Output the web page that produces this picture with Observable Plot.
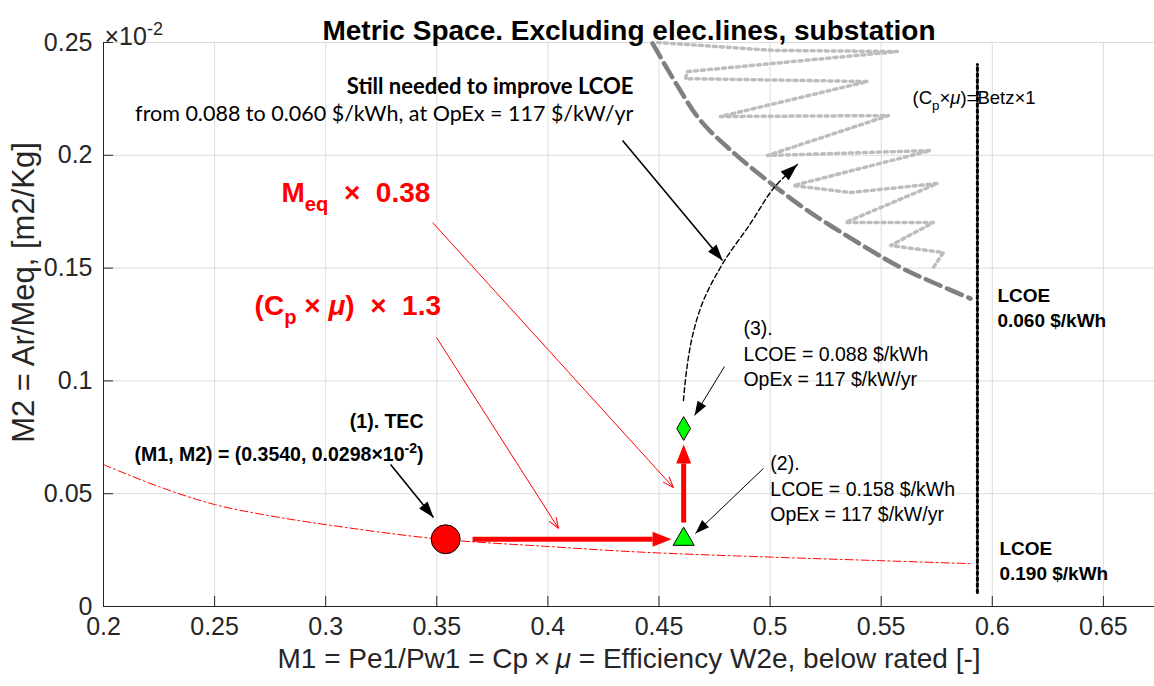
<!DOCTYPE html>
<html>
<head>
<meta charset="utf-8">
<script src="https://cdn.jsdelivr.net/npm/d3@7"></script>
<script src="https://cdn.jsdelivr.net/npm/@observablehq/plot@0.6"></script>
<style>
  body { margin: 0; background: #fff; }
  #chart svg { display: block; }
</style>
</head>
<body>
<div id="chart"></div>
<script>
// ---------- data ----------
const xTicks = [0.2, 0.25, 0.3, 0.35, 0.4, 0.45, 0.5, 0.55, 0.6, 0.65];
const yTicks = [0, 0.05, 0.1, 0.15, 0.2, 0.25];

// LCOE = 0.190 $/kWh iso-line (red dash-dot)
const lcoe190X = [0.2, 0.225, 0.25, 0.275, 0.3, 0.35, 0.4, 0.442, 0.5, 0.55, 0.59];
const lcoe190Y = [0.0629, 0.0531, 0.0452, 0.0402, 0.0363, 0.0300, 0.0266, 0.0241, 0.0219, 0.0203, 0.0190];

// LCOE = 0.060 $/kWh iso-line (grey dashed)
const lcoe060X = [0.4471, 0.4574, 0.4687, 0.4835, 0.4988, 0.5137, 0.5285, 0.5587, 0.5744, 0.5902];
const lcoe060Y = [0.2496, 0.2323, 0.2154, 0.2012, 0.1888, 0.1777, 0.1680, 0.1503, 0.1432, 0.1365];

// design-space search trace (grey dotted zigzag)
const searchX = [0.4493, 0.5015, 0.5573, 0.4628, 0.4619, 0.5438, 0.4777, 0.5533, 0.4988, 0.5722,
                 0.5105, 0.5362, 0.5753, 0.5339, 0.5735, 0.5542, 0.5780, 0.5735];
const searchY = [0.2500, 0.2465, 0.2460, 0.2371, 0.2340, 0.2327, 0.2172, 0.2176, 0.1999, 0.2021,
                 0.1866, 0.1835, 0.1875, 0.1702, 0.1702, 0.1600, 0.1569, 0.1503];

// improvement path still needed (black dashed, with arrow)
const pathX = [0.4610, 0.4624, 0.4651, 0.4700, 0.4790, 0.4912, 0.5015, 0.5123];
const pathY = [0.0913, 0.1046, 0.1201, 0.1356, 0.1525, 0.1698, 0.1853, 0.1959];

// Betz limit (Cp x mu) = Betz x 1
const betzX = [0.5933, 0.5933];
const betzY = [0.0062, 0.2403];

// design points
const points = [
  {name: "(1) TEC", x: 0.354, y: 0.0298},
  {name: "(2)", x: 0.4611, y: 0.0298},
  {name: "(3)", x: 0.4611, y: 0.0789}
];

// thick red improvement arrows (shaft start -> shaft end)
const thickArrows = [
  {x1: 0.3661, y1: 0.0298, x2: 0.4471, y2: 0.0298},
  {x1: 0.4611, y1: 0.0372, x2: 0.4611, y2: 0.0634}
];
// thin red pointer arrows (start -> tip)
const redPointers = [
  {x1: 0.3481, y1: 0.1702, x2: 0.4565, y2: 0.0527},
  {x1: 0.3499, y1: 0.1192, x2: 0.4048, y2: 0.0346}
];
// black pointer arrows (start -> tip)
const blackPointersBold = [
  {x1: 0.4336, y1: 0.2066, x2: 0.4786, y2: 0.1534},
  {x1: 0.3292, y1: 0.0629, x2: 0.3485, y2: 0.0395}
];
const blackPointersThin = [
  {x1: 0.4970, y1: 0.0612, x2: 0.4664, y2: 0.0324},
  {x1: 0.4795, y1: 0.1064, x2: 0.4660, y2: 0.0847}
];

// texts
const titleText = ["Metric Space. Excluding elec.lines, substation"];
const xLabel = ["M1 = Pe1/Pw1 = Cp\u2009×\u2009*{μ} = Efficiency W2e, below rated [-]"];
const yLabel = ["M2 = Ar/Meq, [m2/Kg]"];
const yExponent = ["×10^{-2}"];
const redLabels = [
  {text: "M_{eq}  ×  0.38", x: 0.2801, y: 0.1831},
  {text: "(C_{p} × *{μ})  ×  1.3", x: 0.2680, y: 0.1330}
];
const tecLabel = [{text: "(1). TEC\n(M1, M2) = (0.3540, 0.0298×10^{-2})", x: 0.3440, y: 0.0765}];
const stillBold = [{text: "Still needed to improve LCOE", x: 0.4385, y: 0.2301}];
const stillRegular = [{text: "from 0.088 to 0.060 $/kWh, at OpEx = 117 $/kW/yr", x: 0.4385, y: 0.2181}];
const pointLabels = [
  {text: "(3).\nLCOE = 0.088 $/kWh\nOpEx = 117 $/kW/yr", x: 0.4880, y: 0.1126},
  {text: "(2).\nLCOE = 0.158 $/kWh\nOpEx = 117 $/kW/yr", x: 0.5001, y: 0.0527}
];
const lcoeLabels = [
  {text: "LCOE\n0.060 $/kWh", x: 0.6023, y: 0.1332},
  {text: "LCOE\n0.190 $/kWh", x: 0.6032, y: 0.0208}
];
const betzLabel = [{text: "(C_{p}×*{μ})=Betz×1", x: 0.5641, y: 0.2252}];

// ---------- helpers ----------
const zip = (xs, ys) => xs.map((x, i) => ({x, y: ys[i]}));
const lcoe190 = zip(lcoe190X, lcoe190Y);
const lcoe060 = zip(lcoe060X, lcoe060Y);
const search = zip(searchX, searchY);
const path = zip(pathX, pathY);
const betz = zip(betzX, betzY);

const W = 1154, H = 686;
const mL = 103, mR = 0, mT = 42, mB = 80;
const xDomain = [0.2, 0.673];
const yDomain = [0, 0.25];
const dataPerPxX = (xDomain[1] - xDomain[0]) / (W - mL - mR);
const dataPerPxY = (yDomain[1] - yDomain[0]) / (H - mT - mB);
const fmt = d3.format("~g");
const NS = "http://www.w3.org/2000/svg";

function head(len, wid, filled, atBase) {
  return (color) => {
    const m = document.createElementNS(NS, "marker");
    m.setAttribute("viewBox", `0 ${-wid / 2} ${len} ${wid}`);
    m.setAttribute("markerUnits", "userSpaceOnUse");
    m.setAttribute("markerWidth", len);
    m.setAttribute("markerHeight", wid);
    m.setAttribute("refX", atBase ? 0 : len);
    m.setAttribute("refY", 0);
    m.setAttribute("orient", "auto");
    m.setAttribute("overflow", "visible");
    const p = document.createElementNS(NS, "path");
    if (filled) {
      p.setAttribute("d", `M0,${-wid / 2}L${len},0L0,${wid / 2}Z`);
      p.setAttribute("fill", color);
      p.setAttribute("stroke", "none");
    } else {
      p.setAttribute("d", `M0,${-wid / 2}L${len},0L0,${wid / 2}`);
      p.setAttribute("fill", "none");
      p.setAttribute("stroke", color);
      p.setAttribute("stroke-width", 1);
      p.setAttribute("stroke-dasharray", "none");
    }
    m.appendChild(p);
    return m;
  };
}
let customMarkers = true;
try { Plot.link([], {x1: 0, y1: 0, x2: 0, y2: 0, markerEnd: head(5, 5, true)}); } catch (e) { customMarkers = false; }
const mk = (...a) => customMarkers ? head(...a) : "arrow";

const SANS = "'Liberation Sans', Arial, Helvetica, sans-serif";
const CAL = "Lato, 'Open Sans', sans-serif";

const plot = Plot.plot({
  width: W, height: H,
  marginLeft: mL, marginRight: mR, marginTop: mT, marginBottom: mB,
  style: {fontFamily: SANS, fontSize: "25px", color: "#262626", background: "white", overflow: "visible"},
  x: {domain: xDomain, ticks: xTicks, tickFormat: fmt, tickSize: 0, tickPadding: 11, label: null},
  y: {domain: yDomain, ticks: yTicks, tickFormat: fmt, tickSize: 0, tickPadding: 11, label: null},
  marks: [
    // grid
    Plot.ruleX(xTicks, {stroke: "#dcdcdc", strokeWidth: 1}),
    Plot.ruleY(yTicks, {stroke: "#dcdcdc", strokeWidth: 1}),
    // axis lines + inward ticks
    Plot.ruleX([xDomain[0]], {y1: yDomain[0], y2: yDomain[1], stroke: "#262626", strokeWidth: 1}),
    Plot.ruleY([yDomain[0]], {stroke: "#262626", strokeWidth: 1}),
    Plot.ruleX(xTicks, {y1: yDomain[0], y2: yDomain[0] + 10 * dataPerPxY, stroke: "#262626"}),
    Plot.ruleY(yTicks, {x1: xDomain[0], x2: xDomain[0] + 10 * dataPerPxX, stroke: "#262626"}),

    // curves
    Plot.line(lcoe190, {x: "x", y: "y", stroke: "#ff0000", strokeWidth: 1, strokeDasharray: "8,3,2,3", curve: "catmull-rom"}),
    Plot.line(search, {x: "x", y: "y", stroke: "#bdbdbd", strokeWidth: 3.5, strokeDasharray: "3,4", curve: "linear"}),
    Plot.line(lcoe060, {x: "x", y: "y", stroke: "#808080", strokeWidth: 4.5, strokeDasharray: "16,7", curve: "catmull-rom"}),
    Plot.line(betz, {x: "x", y: "y", stroke: "#000000", strokeWidth: 3, strokeDasharray: "3,3"}),
    Plot.line(path, {x: "x", y: "y", stroke: "#000000", strokeWidth: 1.4, strokeDasharray: "5,3", curve: "catmull-rom", markerEnd: mk(17, 12, true)}),

    // arrows
    Plot.link(redPointers, {x1: "x1", y1: "y1", x2: "x2", y2: "y2", stroke: "#ff0000", strokeWidth: 1, markerEnd: mk(11, 8, false)}),
    Plot.link(blackPointersBold, {x1: "x1", y1: "y1", x2: "x2", y2: "y2", stroke: "#000000", strokeWidth: 1.6, markerEnd: mk(16, 11, true)}),
    Plot.link(blackPointersThin, {x1: "x1", y1: "y1", x2: "x2", y2: "y2", stroke: "#000000", strokeWidth: 1, markerEnd: mk(14, 10, true)}),
    Plot.link(thickArrows, {x1: "x1", y1: "y1", x2: "x2", y2: "y2", stroke: "#ff0000", strokeWidth: 5, markerEnd: mk(19, 15, true, true)}),

    // points
    Plot.dot(points.slice(0, 1), {x: "x", y: "y", r: 14.5, fill: "#ff0000", stroke: "#000000", strokeWidth: 1}),
    Plot.dot(points.slice(1, 2), {x: "x", y: "y", r: 7.8, symbol: "triangle", fill: "#00ff00", stroke: "#000000", strokeWidth: 1}),
    Plot.dot(points.slice(2, 3), {x: "x", y: "y", r: 7.2, symbol: "diamond", fill: "#00ff00", stroke: "#000000", strokeWidth: 1}),

    // annotations
    Plot.text(redLabels, {x: "x", y: "y", text: "text", textAnchor: "start", fill: "#ff0000", fontSize: 28, fontWeight: "bold"}),
    Plot.text(tecLabel, {x: "x", y: "y", text: "text", textAnchor: "end", fill: "#000000", fontSize: 19.5, fontWeight: "bold", lineHeight: 1.7}),
    Plot.text(stillBold, {x: "x", y: "y", text: "text", textAnchor: "end", fill: "#000000", fontSize: 22, fontWeight: "bold", fontFamily: CAL}),
    Plot.text(stillRegular, {x: "x", y: "y", text: "text", textAnchor: "end", fill: "#000000", fontSize: 21.5, fontFamily: CAL}),
    Plot.text(pointLabels, {x: "x", y: "y", text: "text", textAnchor: "start", fill: "#000000", fontSize: 19.5, lineHeight: 1.31}),
    Plot.text(lcoeLabels, {x: "x", y: "y", text: "text", textAnchor: "start", fill: "#000000", fontSize: 19, fontWeight: "bold", lineHeight: 1.32}),
    Plot.text(betzLabel, {x: "x", y: "y", text: "text", textAnchor: "start", fill: "#000000", fontSize: 18.5}),

    // title, axis labels, exponent (in margins)
    Plot.text(titleText, {frameAnchor: "top", dy: -22, fontSize: 28, fontWeight: "bold", fill: "#000000"}),
    Plot.text(yExponent, {frameAnchor: "top-left", textAnchor: "start", dx: 1, dy: -15, fontSize: 25, fill: "#262626"}),
    Plot.text(xLabel, {frameAnchor: "bottom", textAnchor: "middle", dy: 61, fontSize: 28, fill: "#262626"}),
    Plot.text(yLabel, {frameAnchor: "left", textAnchor: "middle", rotate: -90, dx: -79, dy: -32, fontSize: 31, fill: "#262626"})
  ]
});

document.getElementById("chart").appendChild(plot);

// rich-text: _{sub}, ^{sup}, *{italic}
function rich(svg) {
  const nodes = [...svg.querySelectorAll("text, tspan")]
    .filter(n => n.children.length === 0 && /[_^*]\{/.test(n.textContent));
  for (const n of nodes) {
    const fs = parseFloat(getComputedStyle(n).fontSize) || 16;
    const s = n.textContent;
    n.textContent = "";
    const re = /([_^*])\{([^}]*)\}/g;
    let last = 0, m, offset = 0;
    const add = (str, kind) => {
      if (!str) return;
      const t = document.createElementNS(NS, "tspan");
      let target = 0;
      if (kind === "_") { target = 0.3 * fs; t.setAttribute("font-size", (0.72 * fs) + "px"); }
      else if (kind === "^") { target = -0.42 * fs; t.setAttribute("font-size", (0.72 * fs) + "px"); }
      else if (kind === "*") { t.setAttribute("font-style", "italic"); }
      const d = target - offset;
      if (d !== 0) t.setAttribute("dy", d);
      offset = target;
      t.textContent = str;
      n.appendChild(t);
    };
    while ((m = re.exec(s))) {
      add(s.slice(last, m.index), null);
      add(m[2], m[1]);
      last = re.lastIndex;
    }
    add(s.slice(last), null);
  }
}
rich(plot);
</script>
</body>
</html>
